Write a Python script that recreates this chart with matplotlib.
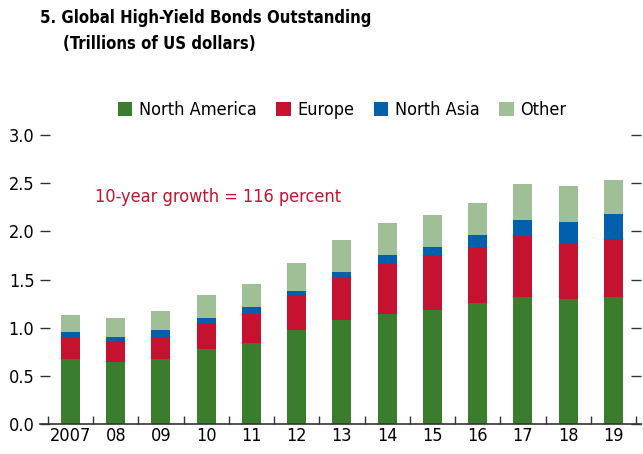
import numpy as np
import matplotlib.pyplot as plt

plt.rcParams['font.family'] = ['DejaVu Sans']
plt.rcParams['font.stretch'] = 'condensed'

years = ["2007", "08", "09", "10", "11", "12", "13", "14", "15", "16", "17", "18", "19"]
north_america = [0.675, 0.647, 0.675, 0.779, 0.841, 0.976, 1.08, 1.145, 1.18, 1.255, 1.32, 1.30, 1.32]
europe = [0.228, 0.215, 0.228, 0.261, 0.304, 0.364, 0.44, 0.52, 0.575, 0.585, 0.635, 0.58, 0.60]
north_asia = [0.052, 0.041, 0.073, 0.061, 0.07, 0.04, 0.06, 0.09, 0.085, 0.12, 0.165, 0.22, 0.26]
other = [0.175, 0.197, 0.194, 0.24, 0.235, 0.29, 0.33, 0.335, 0.33, 0.33, 0.375, 0.37, 0.35]

series = [
    (north_america, 'North America', '#3a7d2c'),
    (europe, 'Europe', '#c41230'),
    (north_asia, 'North Asia', '#0060ae'),
    (other, 'Other', '#9fbf96'),
]

fig = plt.figure(figsize=(6.43, 4.54), dpi=100)
ax = fig.add_axes([0.0622, 0.0661, 0.9347, 0.6365])

x = np.arange(len(years))
bottom = np.zeros(len(years))
for vals, label, color in series:
    ax.bar(x, vals, width=0.42, bottom=bottom, color=color, label=label, zorder=2)
    bottom += np.array(vals)

ax.set_xlim(-0.674, 12.61)
ax.set_ylim(0, 3.0)

# y ticks on both sides, pointing inward, no vertical spines
ax.set_yticks(np.arange(0, 3.01, 0.5))
ax.set_yticklabels([f"{v:.1f}" for v in np.arange(0, 3.01, 0.5)])
ax.tick_params(axis='y', direction='in', length=7, width=1, left=True, right=True,
               labelsize=13, pad=4, color='#333333')
for s in ['left', 'right', 'top']:
    ax.spines[s].set_visible(False)
ax.spines['bottom'].set_color('#333333')
ax.spines['bottom'].set_linewidth(1.2)

# x: labels under bars, tick marks at boundaries
ax.set_xticks(x)
ax.set_xticklabels(years)
ax.set_xticks(np.arange(-0.5, 12.6, 1), minor=True)
ax.tick_params(axis='x', which='major', length=0, labelsize=13, pad=2)
ax.tick_params(axis='x', which='minor', direction='in', length=6, width=1, color='#333333')

ax.text(0.55, 2.36, '10-year growth = 116 percent', color='#c41230', fontsize=13,
        ha='left', va='center')

fig.text(0.062, 0.96, '5. Global High-Yield Bonds Outstanding', fontsize=12,
         fontweight='bold', ha='left', va='center')
fig.text(0.098, 0.903, '(Trillions of US dollars)', fontsize=12,
         fontweight='bold', ha='left', va='center')

fig.legend(loc='center', bbox_to_anchor=(0.532, 0.757), ncol=4, frameon=False,
           fontsize=13, handlelength=0.8, handleheight=0.8, handletextpad=0.35,
           columnspacing=1.1)

fig.savefig('out.png', dpi=100)
